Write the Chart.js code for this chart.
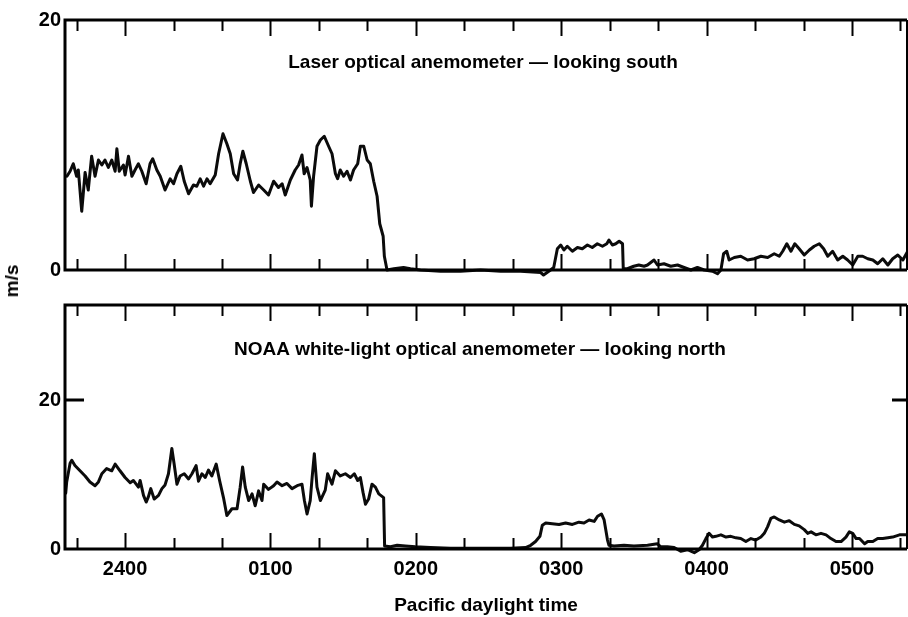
<!DOCTYPE html>
<html>
<head>
<meta charset="utf-8">
<script src="https://cdn.jsdelivr.net/npm/chart.js@4.4.1/dist/chart.umd.min.js"></script>
<style>
  html, body { margin:0; padding:0; background:#fff; width:908px; height:617px; overflow:hidden; }
  body { position:relative; font-family:"Liberation Sans", Arial, sans-serif; }
  #c1 { position:absolute; left:0; top:0; }
  #c2 { position:absolute; left:0; top:285px; }
  #ms { position:absolute; left:12px; top:281px; transform:translate(-50%,-50%) rotate(-90deg);
        font-weight:bold; font-size:19px; color:#000; white-space:nowrap; z-index:5; }
</style>
</head>
<body>
<canvas id="c1" width="908" height="290"></canvas>
<canvas id="c2" width="908" height="332"></canvas>
<div id="ms">m/s</div>
<script>
// ---- data (time in minutes after midnight PDT; negative = before 2400) ----
const X_RANGE = [-24.8, 322.7];
const TOP_RANGE = [0, 20];
const BOTTOM_RANGE = [0, 32.75];
const Y_TICKS = [0, 20];
const HOUR_TICKS = [0, 60, 120, 180, 240, 300];
const HOUR_LABELS = ['2400', '0100', '0200', '0300', '0400', '0500'];
const MINOR_TICKS = [-20, 0, 20, 40, 60, 80, 100, 120, 140, 160, 180, 200, 220, 240, 260, 280, 300, 320];

const TOP_TITLE = 'Laser optical anemometer \u2014 looking south';
const BOTTOM_TITLE = 'NOAA white-light optical anemometer \u2014 looking north';
const X_TITLE = 'Pacific daylight time';

const LASER_T = [
  -24.0, -22.7, -21.4, -20.0, -19.3, -17.9, -16.5, -15.2, -13.8, -12.4,
  -11.0, -9.6, -8.3, -6.9, -5.5, -4.1, -3.4, -2.4, -0.7, 0,
  1.4, 2.8, 4.1, 5.5, 6.9, 8.7, 10.3, 11.4, 13.1, 14.5,
  16.5, 18.6, 20.0, 21.4, 23.0, 24.4, 26.2, 28.2, 29.6, 31.0,
  32.4, 33.8, 35.1, 37.2, 38.6, 40.4, 42.0, 43.4, 44.8, 46.4,
  47.5, 48.6, 50.0, 51.7, 53.0, 55.1, 57.2, 59.2, 61.3, 63.3,
  64.8, 66.1, 68.2, 70.2, 71.6, 73.0, 73.9, 75.1, 76.4, 76.9,
  77.8, 79.2, 80.6, 82.2, 84.0, 85.4, 86.8, 87.7, 88.8, 90.2,
  91.6, 93.0, 94.3, 96.0, 97.1, 98.5, 99.9, 101.2, 102.6, 104.0,
  105.1, 106.5, 107.0, 108.1, 110.9, 114.9, 117.8, 121.9, 130.2, 138.4,
  146.7, 155.0, 163.2, 171.5, 172.7, 175.6, 176.9, 178.4, 179.8, 181.1,
  182.5, 184.6, 186.7, 188.7, 190.8, 192.8, 194.9, 197.0, 198.8, 199.7,
  201.1, 202.5, 203.9, 205.3, 205.6, 207.3, 209.9, 212.0, 214.2, 215.6,
  218.3, 219.7, 222.4, 225.2, 228.0, 230.7, 233.5, 236.2, 239.0, 242.4,
  244.5, 245.9, 247.0, 248.3, 249.3, 251.4, 254.1, 256.9, 259.6, 262.4,
  265.2, 267.9, 270.0, 271.4, 273.1, 274.8, 276.4, 278.2, 280.3, 282.4,
  284.4, 286.5, 288.3, 290.0, 292.0, 294.1, 296.2, 298.2, 300.3, 302.4,
  304.4, 306.5, 308.6, 310.6, 312.7, 314.8, 316.8, 318.9, 321.0, 323.0
];
const LASER_V = [
  7.5, 7.9, 8.5, 7.5, 8.0, 4.7, 7.8, 6.4, 9.1, 7.5,
  8.8, 8.4, 8.8, 8.2, 8.8, 7.9, 9.7, 7.9, 8.4, 7.6,
  9.1, 7.5, 8.0, 8.5, 7.9, 6.9, 8.5, 8.9, 8.0, 7.5,
  6.4, 7.3, 6.9, 7.7, 8.3, 7.1, 6.1, 6.8, 6.7, 7.3,
  6.7, 7.3, 6.9, 7.6, 9.3, 10.9, 10.1, 9.3, 7.7, 7.2,
  8.5, 9.5, 8.5, 7.1, 6.2, 6.8, 6.4, 6.0, 7.1, 6.6,
  6.9, 6.0, 7.2, 8.0, 8.4, 9.2, 7.7, 8.2, 7.2, 5.1,
  7.5, 9.9, 10.4, 10.7, 9.9, 9.3, 7.7, 7.3, 8.0, 7.5,
  7.9, 7.2, 8.0, 8.5, 9.9, 9.9, 8.8, 8.5, 7.1, 5.9,
  3.7, 2.7, 1.1, 0, 0.1, 0.2, 0.1, 0.0, -0.1, -0.1,
  0.0, -0.1, -0.1, -0.2, -0.4, 0.0, 0.2, 1.7, 2.0, 1.6,
  1.9, 1.5, 1.8, 1.7, 2.0, 1.8, 2.1, 1.9, 2.1, 2.4,
  2.0, 2.1, 2.3, 2.1, 0.1, 0.1, 0.3, 0.4, 0.3, 0.4,
  0.8, 0.4, 0.5, 0.3, 0.4, 0.2, 0.0, 0.2, 0.0, -0.1,
  -0.3, 0.0, 1.3, 1.5, 0.8, 1.0, 1.1, 0.8, 0.9, 1.1,
  1.0, 1.3, 1.1, 1.5, 2.1, 1.5, 2.1, 1.7, 1.2, 1.6,
  1.9, 2.1, 1.7, 1.1, 1.5, 0.8, 1.1, 0.8, 0.4, 1.1,
  1.1, 0.9, 0.8, 0.5, 0.9, 0.4, 0.9, 1.2, 0.8, 1.5
];

const NOAA_T = [
  -24.5, -24.1, -22.7, -22.0, -20.7, -18.6, -16.5, -14.5, -12.4, -11.0,
  -9.6, -7.6, -5.5, -4.1, -2.1, 0, 2.1, 3.4, 5.5, 6.2,
  7.6, 8.7, 9.6, 10.6, 12.0, 13.8, 15.2, 16.5, 17.9, 19.3,
  20.2, 21.4, 22.7, 24.4, 26.2, 27.6, 29.3, 30.3, 31.7, 33.1,
  34.4, 35.8, 37.6, 39.0, 40.6, 42.0, 44.1, 46.2, 47.5, 48.5,
  49.6, 51.0, 52.4, 53.7, 55.1, 56.5, 57.2, 59.2, 61.3, 62.7,
  64.8, 66.8, 68.9, 71.0, 73.0, 74.0, 75.1, 76.4, 77.2, 78.1,
  79.2, 80.6, 82.6, 83.6, 85.4, 86.8, 88.8, 90.9, 93.0, 94.6,
  96.0, 97.1, 98.2, 99.2, 100.5, 101.9, 103.3, 104.7, 106.7, 107.1,
  109.5, 112.3, 115.7, 119.8, 126.0, 134.3, 142.6, 150.8, 159.1, 165.3,
  167.4, 169.4, 171.2, 172.2, 173.6, 176.3, 179.1, 181.8, 184.6, 187.3,
  189.4, 191.5, 193.6, 195.0, 196.6, 197.7, 199.1, 199.7, 201.8, 205.9,
  210.0, 215.6, 219.7, 221.1, 223.8, 226.6, 229.3, 232.1, 234.9, 236.9,
  238.3, 239.7, 241.0, 242.4, 243.8, 245.9, 248.0, 250.0, 252.1, 254.1,
  256.2, 258.3, 260.3, 262.4, 263.8, 265.2, 266.5, 267.9, 270.0, 272.1,
  274.1, 276.2, 278.2, 280.3, 281.7, 283.1, 285.1, 287.2, 289.3, 291.3,
  293.4, 295.5, 297.5, 298.9, 300.3, 301.7, 303.1, 305.2, 306.5, 308.6,
  310.6, 312.7, 314.8, 316.8, 319.6, 321.7, 323.6
];
const NOAA_V = [
  7.5, 9.0, 11.5, 11.9, 11.2, 10.5, 9.8, 9.0, 8.5, 9.0,
  10.1, 10.8, 10.5, 11.4, 10.5, 9.6, 8.9, 9.2, 8.3, 9.2,
  7.2, 6.3, 7.0, 8.1, 6.7, 7.2, 8.1, 8.6, 10.1, 13.5,
  11.5, 8.7, 9.8, 10.1, 9.4, 10.1, 11.2, 9.1, 10.1, 9.6,
  10.6, 9.8, 11.4, 9.2, 6.9, 4.5, 5.4, 5.4, 8.3, 11.0,
  8.3, 6.5, 7.4, 5.8, 7.8, 6.5, 8.7, 8.0, 8.5, 9.0,
  8.5, 8.8, 8.1, 8.5, 8.7, 6.5, 4.7, 6.5, 9.6, 12.8,
  8.3, 6.5, 7.9, 10.1, 8.7, 10.5, 9.8, 10.1, 9.6, 10.1,
  9.2, 9.6, 7.6, 6.0, 6.7, 8.7, 8.3, 7.4, 6.9, 0.4,
  0.3, 0.5, 0.4, 0.3, 0.2, 0.1, 0.1, 0.1, 0.1, 0.2,
  0.5, 1.0, 1.7, 3.2, 3.5, 3.4, 3.3, 3.5, 3.3, 3.6,
  3.5, 3.9, 3.7, 4.4, 4.7, 3.9, 1.2, 0.5, 0.4, 0.5,
  0.4, 0.5, 0.7, 0.3, 0.3, 0.2, -0.3, -0.1, -0.5, -0.1,
  0.5, 1.4, 2.1, 1.6, 1.7, 1.9, 1.6, 1.7, 1.5, 1.4,
  1.0, 1.4, 1.2, 1.6, 2.1, 3.0, 4.1, 4.3, 3.9, 3.6,
  3.8, 3.3, 3.1, 2.6, 2.1, 2.3, 1.9, 2.1, 1.9, 1.4,
  1.0, 1.0, 1.6, 2.3, 2.1, 1.4, 1.4, 0.7, 1.0, 1.0,
  1.4, 1.4, 1.5, 1.6, 1.9, 1.9, 1.9
];

// ---- rendering ----
const FONT = '"Liberation Sans", Arial, sans-serif';
Chart.defaults.font.family = FONT;
Chart.defaults.color = '#000';

const framePlugin = {
  id: 'frame',
  afterDatasetsDraw(chart, args, opts) {
    const { ctx, chartArea: a, scales: { x, y } } = chart;
    ctx.save();
    ctx.strokeStyle = '#000';
    ctx.lineCap = 'butt';
    ctx.lineWidth = 3;
    ctx.beginPath();
    ctx.moveTo(a.right, a.top); ctx.lineTo(a.left, a.top);
    ctx.lineTo(a.left, a.bottom); ctx.lineTo(a.right, a.bottom);
    ctx.stroke();
    ctx.lineWidth = 2;
    ctx.beginPath(); ctx.moveTo(a.right, a.top); ctx.lineTo(a.right, a.bottom); ctx.stroke();
    // inward time ticks on top and bottom edges
    ctx.lineWidth = 2;
    for (const v of MINOR_TICKS) {
      const px = Math.round(x.getPixelForValue(v)) + 0.5;
      const len = HOUR_TICKS.includes(v) ? 16 : 11;
      ctx.beginPath();
      ctx.moveTo(px, a.top); ctx.lineTo(px, a.top + len);
      ctx.moveTo(px, a.bottom); ctx.lineTo(px, a.bottom - len);
      ctx.stroke();
    }
    // inward value marks
    ctx.lineWidth = 3;
    for (const v of (opts.yMarks || [])) {
      const py = y.getPixelForValue(v);
      ctx.beginPath();
      ctx.moveTo(a.left, py); ctx.lineTo(a.left + 19, py);
      ctx.moveTo(a.right, py); ctx.lineTo(a.right - 15, py);
      ctx.stroke();
    }
    // panel caption
    ctx.fillStyle = '#000';
    ctx.font = 'bold 19px ' + FONT;
    ctx.textAlign = 'center';
    ctx.textBaseline = 'alphabetic';
    ctx.fillText(opts.title, opts.tx, opts.ty);
    ctx.restore();
  }
};

function series(T, V) { return T.map((t, i) => ({ x: t, y: V[i] })); }

function yAxis(range) {
  return {
    type: 'linear', min: range[0], max: range[1],
    afterFit(s) { s.width = 65; },
    afterBuildTicks(s) { s.ticks = Y_TICKS.map(v => ({ value: v })); },
    grid: { display: false, drawTicks: false },
    border: { display: false },
    ticks: { padding: 4, color: '#000', font: { size: 20, weight: 'bold' } }
  };
}

const lineStyle = {
  borderColor: '#0b0b0b', borderWidth: 3, pointRadius: 0, tension: 0,
  borderJoinStyle: 'round', borderCapStyle: 'round', fill: false, clip: 8
};

new Chart(document.getElementById('c1'), {
  type: 'line',
  data: { datasets: [Object.assign({ label: 'Laser', data: series(LASER_T, LASER_V) }, lineStyle)] },
  options: {
    responsive: false, animation: false, devicePixelRatio: 1,
    layout: { padding: { top: 20, bottom: 20, left: 0, right: 1 } },
    plugins: { legend: { display: false }, tooltip: { enabled: false },
      frame: { title: TOP_TITLE, tx: 483, ty: 68, yMarks: [] } },
    scales: {
      x: { type: 'linear', min: X_RANGE[0], max: X_RANGE[1], display: false },
      y: yAxis(TOP_RANGE)
    }
  },
  plugins: [framePlugin]
});

new Chart(document.getElementById('c2'), {
  type: 'line',
  data: { datasets: [Object.assign({ label: 'NOAA', data: series(NOAA_T, NOAA_V) }, lineStyle)] },
  options: {
    responsive: false, animation: false, devicePixelRatio: 1,
    layout: { padding: { top: 20, bottom: 0, left: 0, right: 1 } },
    plugins: { legend: { display: false }, tooltip: { enabled: false },
      frame: { title: BOTTOM_TITLE, tx: 480, ty: 70, yMarks: [20] } },
    scales: {
      x: {
        type: 'linear', min: X_RANGE[0], max: X_RANGE[1],
        afterFit(s) { s.height = 68; },
        afterBuildTicks(s) { s.ticks = HOUR_TICKS.map(v => ({ value: v })); },
        grid: { display: false, drawTicks: false },
        border: { display: false },
        ticks: { autoSkip: false, maxRotation: 0, padding: 8, color: '#000',
                 font: { size: 20, weight: 'bold' },
                 callback: v => HOUR_LABELS[HOUR_TICKS.indexOf(v)] },
        title: { display: true, text: X_TITLE, color: '#000',
                 font: { size: 19, weight: 'bold' }, padding: { top: 0, bottom: 0 } }
      },
      y: yAxis(BOTTOM_RANGE)
    }
  },
  plugins: [framePlugin]
});
</script>
</body>
</html>
